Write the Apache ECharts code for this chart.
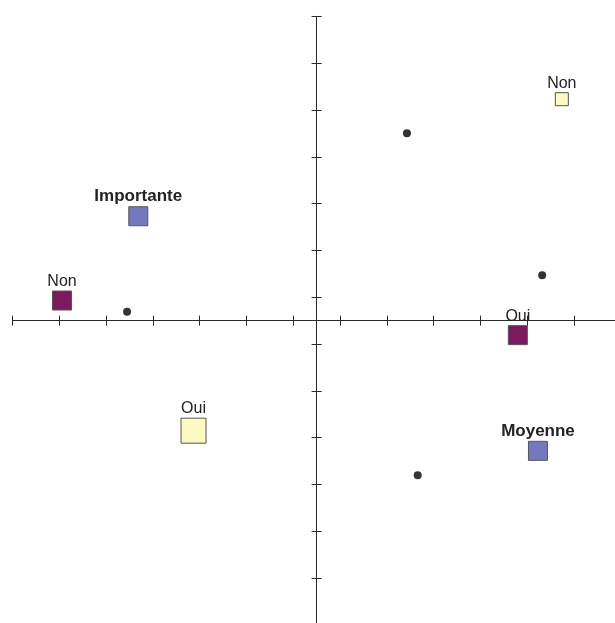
<!DOCTYPE html>
<html>
<head>
<meta charset="utf-8">
<script src="https://cdn.jsdelivr.net/npm/echarts@6/dist/echarts.min.js"></script>
<style>
html,body{margin:0;padding:0;background:#fff;}
#chart{width:615px;height:623px;}
</style>
</head>
<body>
<div id="chart"></div>
<script>
// Individuals (black dots)
const dotX = [1.93, 4.82, -4.05, 2.16];
const dotY = [4.00, 0.97, 0.19, -3.30];

// Modalities of the first variable (blue, bold labels)
const blueLabels = ['Importante', 'Moyenne'];
const blueX = [-3.81, 4.73];
const blueY = [2.23, -2.78];

// Modalities of the second variable (purple)
const purpleLabels = ['Non', 'Oui'];
const purpleX = [-5.44, 4.30];
const purpleY = [0.43, -0.31];

// Modalities of the third variable (yellow, weighted)
const yellowLabels = ['Non', 'Oui'];
const yellowX = [5.24, -2.63];
const yellowY = [4.73, -2.35];
const yellowWeight = [13, 25];

// Axis extent (ticks fall on half steps around the origin)
const axisMin = -6.5, axisMax = 6.5;

const FONT = 'Liberation Sans, Arial, Helvetica, sans-serif';
const lineColor = '#2a2a2a';

function mainAxis(pos) {
  return {
    type: 'value', min: axisMin, max: axisMax, position: pos,
    axisLine: { show: true, onZero: true, onZeroAxisIndex: 0, lineStyle: { color: lineColor, width: 1 } },
    axisTick: { show: false }, axisLabel: { show: false }, splitLine: { show: false }
  };
}
function tickAxis(pos, inside) {
  // shifted by 0.5 so that integer ticks fall on half steps of the main axis
  return {
    type: 'value', min: axisMin + 0.5, max: axisMax + 0.5, interval: 1, position: pos,
    axisLine: { show: false, onZero: true, onZeroAxisIndex: 0 },
    axisTick: { show: true, inside: inside, length: 5, lineStyle: { color: lineColor, width: 1 } },
    axisLabel: { show: false }, splitLine: { show: false }
  };
}

function zip(xs, ys) { return xs.map((x, i) => [x, ys[i]]); }

function squareSeries(labels, xs, ys, color, bold, sizes) {
  return {
    type: 'scatter', xAxisIndex: 0, yAxisIndex: 0,
    symbol: 'rect',
    data: labels.map((n, i) => ({
      name: n, value: [xs[i], ys[i]],
      symbolSize: sizes ? sizes[i] : 19
    })),
    itemStyle: { color: color, borderColor: '#555', borderWidth: 1, opacity: 1 },
    label: {
      show: true, position: 'top', distance: 1,
      formatter: p => p.name,
      fontFamily: FONT, fontSize: bold ? 17 : 16,
      fontWeight: bold ? 'bold' : 'normal', color: '#222'
    },
    emphasis: { disabled: true },
    z: 3
  };
}

const chart = echarts.init(document.getElementById('chart'), null, { renderer: 'canvas' });
chart.setOption({
  animation: false,
  backgroundColor: '#fff',
  grid: { left: 12.4, right: -5.8, top: 16.3, bottom: -2, containLabel: false, outerBoundsMode: 'none' },
  xAxis: [mainAxis('bottom'), tickAxis('bottom', false), tickAxis('bottom', true)],
  yAxis: [mainAxis('left'), tickAxis('left', false), tickAxis('left', true)],
  series: [
    {
      type: 'scatter', xAxisIndex: 0, yAxisIndex: 0,
      symbol: 'circle', symbolSize: 8,
      data: zip(dotX, dotY),
      itemStyle: { color: '#000' },
      emphasis: { disabled: true },
      z: 3
    },
    squareSeries(blueLabels, blueX, blueY, '#7478bd', true),
    squareSeries(purpleLabels, purpleX, purpleY, '#7d1a5e', false),
    squareSeries(yellowLabels, yellowX, yellowY, '#fcfac2', false, yellowWeight)
  ]
});
</script>
</body>
</html>
